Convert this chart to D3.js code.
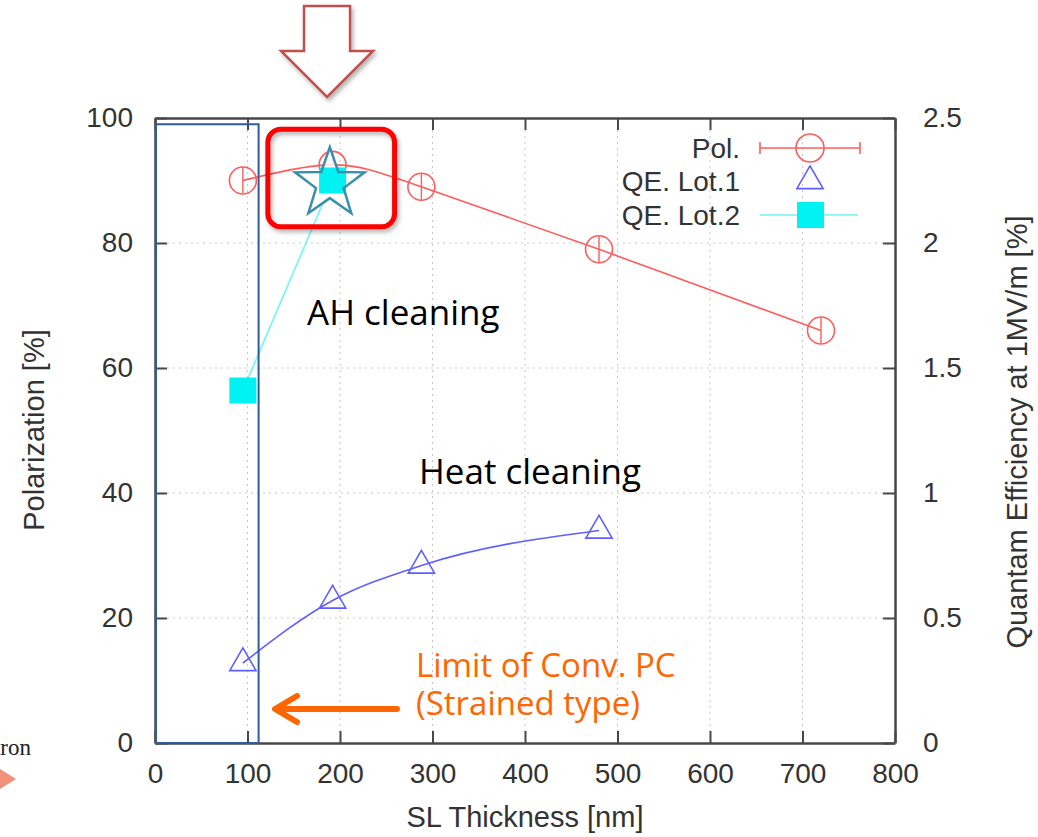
<!DOCTYPE html>
<html>
<head>
<meta charset="utf-8">
<script src="https://d3js.org/d3.v7.min.js"></script>
<style>
  body { margin: 0; background: #fff; }
  svg { display: block; }
</style>
</head>
<body>
<svg width="1038" height="837"></svg>
<script>
// SL thickness [nm] for each sample
var polThickness = [95, 192, 288, 480, 720];
var polValues = [90, 92.5, 89, 79, 66];

var lot1Thickness = [95, 192, 288, 480];
var lot1Values = [0.32, 0.57, 0.71, 0.85];

var lot2Thickness = [95, 192];
var lot2Values = [1.41, 2.25];

var xTicks = [0, 100, 200, 300, 400, 500, 600, 700, 800];
var leftTicks = [0, 20, 40, 60, 80, 100];
var rightTicks = [0, 0.5, 1, 1.5, 2, 2.5];

var legendNames = ["Pol.", "QE. Lot.1", "QE. Lot.2"];

function main() {
    var svg = d3.select("svg");

    var left = 155, right = 895, top = 118, bottom = 743;

    var xScale = d3.scaleLinear().domain([0, 800]).range([left, right]),
        yLeft = d3.scaleLinear().domain([0, 100]).range([bottom, top]),
        yRight = d3.scaleLinear().domain([0, 2.5]).range([bottom, top]);

    var defs = svg.append("defs");
    var sh = defs.append("filter").attr("id", "shadow")
        .attr("x", "-20%").attr("y", "-20%").attr("width", "150%").attr("height", "150%");
    sh.append("feDropShadow").attr("dx", 2).attr("dy", 3).attr("stdDeviation", 2)
        .attr("flood-color", "#000").attr("flood-opacity", 0.3);

    var tickFont = "'Liberation Sans', Arial, sans-serif";

    // dotted grid
    var grid = svg.append("g");
    grid.selectAll(".vg")
        .data(xTicks.slice(1, -1))
        .enter().append("line")
        .attr("x1", function(d) { return xScale(d); })
        .attr("x2", function(d) { return xScale(d); })
        .attr("y1", top).attr("y2", bottom)
        .attr("stroke", "#c8c8c8").attr("stroke-width", 1).attr("stroke-dasharray", "2,4");
    grid.selectAll(".hg")
        .data(leftTicks.slice(1, -1))
        .enter().append("line")
        .attr("x1", left).attr("x2", right)
        .attr("y1", function(d) { return yLeft(d); })
        .attr("y2", function(d) { return yLeft(d); })
        .attr("stroke", "#c8c8c8").attr("stroke-width", 1).attr("stroke-dasharray", "2,4");

    // axes (gnuplot style: ticks pointing inward, mirrored)
    var axisColor = "#484848";
    var bottomAxis = svg.append("g")
        .attr("transform", "translate(0," + bottom + ")")
        .call(d3.axisBottom(xScale).tickValues(xTicks).tickSizeInner(-12).tickSizeOuter(0).tickPadding(20));
    var topAxis = svg.append("g")
        .attr("transform", "translate(0," + top + ")")
        .call(d3.axisTop(xScale).tickValues(xTicks).tickSizeInner(-12).tickSizeOuter(0).tickFormat(""));
    var leftAxis = svg.append("g")
        .attr("transform", "translate(" + left + ",0)")
        .call(d3.axisLeft(yLeft).tickValues(leftTicks).tickSizeInner(-12).tickSizeOuter(0).tickPadding(22));
    var rightAxis = svg.append("g")
        .attr("transform", "translate(" + right + ",0)")
        .call(d3.axisRight(yRight).tickValues(rightTicks).tickFormat(function(d) { return String(d); })
              .tickSizeInner(-12).tickSizeOuter(0).tickPadding(28));

    [bottomAxis, topAxis, leftAxis, rightAxis].forEach(function(a) {
        a.select(".domain").attr("stroke", axisColor).attr("stroke-width", 2.5);
        a.selectAll(".tick line").attr("stroke", axisColor).attr("stroke-width", 2);
        a.selectAll("text").attr("fill", "#333").style("font-family", tickFont).style("font-size", "28px");
    });

    // axis titles
    svg.append("text")
       .attr("x", 525).attr("y", 827)
       .attr("text-anchor", "middle")
       .style("font-family", tickFont).style("font-size", "29px").attr("fill", "#333")
       .text("SL Thickness [nm]");
    svg.append("text")
       .attr("transform", "translate(34,430) rotate(-90)")
       .attr("text-anchor", "middle").attr("dominant-baseline", "central")
       .style("font-family", tickFont).style("font-size", "29px").attr("fill", "#333")
       .text("Polarization [%]");
    svg.append("text")
       .attr("transform", "translate(1017,432) rotate(-90)")
       .attr("text-anchor", "middle").attr("dominant-baseline", "central")
       .style("font-family", tickFont).style("font-size", "29px").attr("fill", "#333")
       .text("Quantam Efficiency at 1MV/m [%]");

    var polColor = "#ff5c5c", lot1Color = "#5f5fff", lot2Color = "#00f2f2";

    var polData = polThickness.map(function(t, i) { return {x: t, y: polValues[i]}; });
    var lot1Data = lot1Thickness.map(function(t, i) { return {x: t, y: lot1Values[i]}; });
    var lot2Data = lot2Thickness.map(function(t, i) { return {x: t, y: lot2Values[i]}; });

    // Polarization - smooth curve through the points
    var polLine = d3.line().curve(d3.curveNatural)
        .x(function(d) { return xScale(d.x); })
        .y(function(d) { return yLeft(d.y); });
    svg.append("path").datum(polData)
       .attr("d", polLine).attr("fill", "none")
       .attr("stroke", polColor).attr("stroke-width", 1.6);

    var polPts = svg.selectAll(".pol").data(polData).enter().append("g")
        .attr("transform", function(d) { return "translate(" + xScale(d.x) + "," + yLeft(d.y) + ")"; });
    polPts.append("circle").attr("r", 13.5)
        .attr("fill", "none").attr("stroke", polColor).attr("stroke-width", 1.6);
    polPts.append("line").attr("y1", -13).attr("y2", 13)
        .attr("stroke", polColor).attr("stroke-width", 1.4);

    // QE Lot.1 - smooth curve with open triangles
    var lot1Line = d3.line().curve(d3.curveMonotoneX)
        .x(function(d) { return xScale(d.x); })
        .y(function(d) { return yRight(d.y); });
    svg.append("path").datum(lot1Data)
       .attr("d", lot1Line).attr("fill", "none")
       .attr("stroke", lot1Color).attr("stroke-width", 1.6);

    var tri = d3.symbol().type(d3.symbolTriangle).size(300);
    svg.selectAll(".lot1").data(lot1Data).enter().append("path")
       .attr("d", tri)
       .attr("transform", function(d) { return "translate(" + xScale(d.x) + "," + yRight(d.y) + ")"; })
       .attr("fill", "none").attr("stroke", lot1Color).attr("stroke-width", 1.6);

    // QE Lot.2 - straight line with filled squares
    var lot2Line = d3.line()
        .x(function(d) { return xScale(d.x); })
        .y(function(d) { return yRight(d.y); });
    svg.append("path").datum(lot2Data)
       .attr("d", lot2Line).attr("fill", "none")
       .attr("stroke", "#6ff5f5").attr("stroke-width", 1.6);

    // star highlighting the AH cleaning point
    var sx = xScale(189), sy = yLeft(89.5);
    var starPts = [];
    for (var k = 0; k < 10; k++) {
        var r = k % 2 == 0 ? 36.5 : 14.5;
        var a = -Math.PI / 2 + k * Math.PI / 5;
        starPts.push([sx + r * Math.cos(a), sy + r * Math.sin(a)]);
    }
    var starPath = "M" + starPts.join("L") + "Z";
    svg.append("path").attr("d", starPath).attr("fill", "#fff").attr("fill-opacity", 0.85);

    svg.selectAll(".lot2").data(lot2Data).enter().append("rect")
       .attr("x", function(d) { return xScale(d.x) - 13.5; })
       .attr("y", function(d) { return yRight(d.y) - 13; })
       .attr("width", 27).attr("height", 26)
       .attr("fill", lot2Color);

    svg.append("path").attr("d", starPath)
       .attr("fill", "none").attr("stroke", "#3c8fac").attr("stroke-width", 2.5)
       .attr("stroke-linejoin", "miter");

    // legend
    var legY = [148, 181, 215];
    var leg = svg.append("g");
    leg.selectAll("text").data(legendNames).enter().append("text")
       .attr("x", 740).attr("y", function(d, i) { return legY[i]; })
       .attr("text-anchor", "end").attr("dominant-baseline", "central")
       .style("font-family", tickFont).style("font-size", "28px").attr("fill", "#333")
       .text(function(d) { return d; });
    leg.append("line").attr("x1", 760).attr("x2", 860).attr("y1", legY[0]).attr("y2", legY[0])
       .attr("stroke", polColor).attr("stroke-width", 1.6);
    [760, 860].forEach(function(cx) {
        leg.append("line").attr("x1", cx).attr("x2", cx).attr("y1", legY[0] - 6).attr("y2", legY[0] + 6)
           .attr("stroke", polColor).attr("stroke-width", 1.6);
    });
    leg.append("circle").attr("cx", 810).attr("cy", legY[0]).attr("r", 14)
       .attr("fill", "none").attr("stroke", polColor).attr("stroke-width", 1.6);
    leg.append("path").attr("d", tri).attr("transform", "translate(810," + legY[1] + ")")
       .attr("fill", "none").attr("stroke", lot1Color).attr("stroke-width", 1.6);
    leg.append("line").attr("x1", 760).attr("x2", 858).attr("y1", legY[2]).attr("y2", legY[2])
       .attr("stroke", "#6ff5f5").attr("stroke-width", 1.6);
    leg.append("rect").attr("x", 797).attr("y", legY[2] - 13).attr("width", 27).attr("height", 26)
       .attr("fill", lot2Color);

    // blue box: region of conventional photocathodes
    svg.append("rect")
       .attr("x", xScale(1)).attr("y", yLeft(99))
       .attr("width", xScale(112) - xScale(1)).attr("height", yLeft(0) - yLeft(99))
       .attr("fill", "none").attr("stroke", "#2f5b9c").attr("stroke-width", 2);

    // red rounded box around the best point
    svg.append("rect")
       .attr("x", xScale(122)).attr("y", yLeft(98.2))
       .attr("width", xScale(259) - xScale(122)).attr("height", yLeft(82.6) - yLeft(98.2))
       .attr("rx", 13).attr("ry", 13)
       .attr("fill", "none").attr("stroke", "#ff0000").attr("stroke-width", 5)
       .attr("filter", "url(#shadow)");

    // big down arrow above the chart
    var ax = xScale(186);
    svg.append("path")
       .attr("d", "M" + (ax - 23) + ",6H" + (ax + 23) + "V51H" + (ax + 46) + "L" + ax + ",97L" + (ax - 46) + ",51H" + (ax - 23) + "Z")
       .attr("fill", "#fff").attr("stroke", "#c0504d").attr("stroke-width", 2.5)
       .attr("filter", "url(#shadow)");

    // annotations
    var noteFont = "'Open Sans', sans-serif";
    svg.append("text").attr("x", 307).attr("y", 325)
       .style("font-family", noteFont).style("font-size", "35px").attr("fill", "#000")
       .text("AH cleaning");
    svg.append("text").attr("x", 419).attr("y", 484)
       .style("font-family", noteFont).style("font-size", "35px").attr("fill", "#000")
       .text("Heat cleaning");
    var limit = svg.append("text").attr("x", 416).attr("y", 677)
       .style("font-family", noteFont).style("font-size", "33px").attr("fill", "#ff6600");
    limit.append("tspan").attr("x", 416).text("Limit of Conv. PC");
    limit.append("tspan").attr("x", 416).attr("dy", 38).text("(Strained type)");

    // orange arrow pointing at the box
    svg.append("line").attr("x1", 397).attr("x2", 278).attr("y1", 709).attr("y2", 709)
       .attr("stroke", "#ff6600").attr("stroke-width", 6).attr("stroke-linecap", "round");
    svg.append("path").attr("d", "M297,696L275,709L297,722")
       .attr("fill", "none").attr("stroke", "#ff6600").attr("stroke-width", 6)
       .attr("stroke-linecap", "round").attr("stroke-linejoin", "round");

    // cut-off text from the slide on the left edge
    svg.append("text").attr("x", 31).attr("y", 755)
       .attr("text-anchor", "end")
       .style("font-family", "'Liberation Serif', serif").style("font-size", "23px").attr("fill", "#222")
       .text("Electron");
    svg.append("path").attr("d", "M0,769L16,779L0,789Z").attr("fill", "#f0927a");
}

main();
</script>
</body>
</html>
